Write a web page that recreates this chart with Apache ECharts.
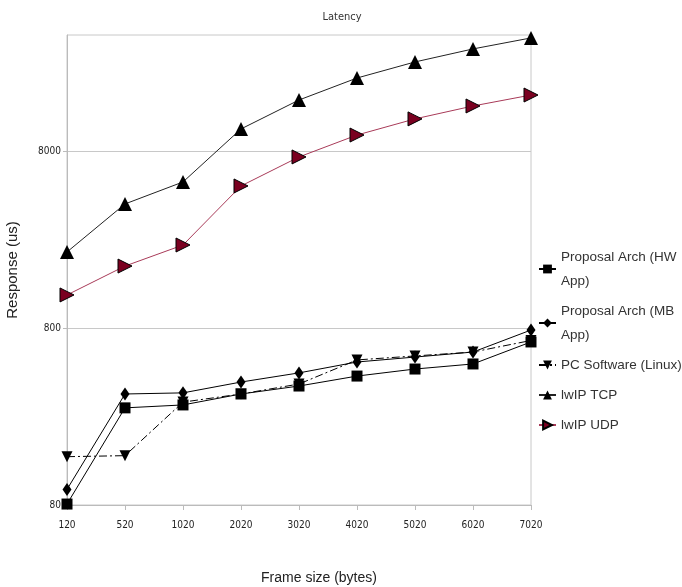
<!DOCTYPE html>
<html>
<head>
<meta charset="utf-8">
<script src="https://cdn.jsdelivr.net/npm/echarts@6/dist/echarts.min.js"></script>
<style>
  html, body { margin: 0; padding: 0; background: #fff; }
  #main { width: 682px; height: 587px; }
</style>
</head>
<body>
<div id="main"></div>
<script>
// 数据
var frameSizes = ['120', '520', '1020', '2020', '3020', '4020', '5020', '6020', '7020'];
var hwApp = [81, 283, 294, 339, 376, 428, 469, 501, 667];
var mbApp = [98, 339, 344, 396, 446, 514, 548, 585, 779];
var pcLinux = [150, 152, 305, 339, 386, 528, 556, 585, 680];
var lwipTcp = [2150, 4015, 5345, 10650, 15520, 20660, 25460, 30160, 34800];
var lwipUdp = [1229, 1790, 2354, 5074, 7400, 9840, 12140, 14360, 16560];
var yBase = 80;   // 80 / 800 / 8000

// log 刻度：按 80 的倍数取对数
function toLog(arr) {
  return arr.map(function (v) { return Math.log10(v / yBase); });
}

var chartDom = document.getElementById('main');
var myChart = echarts.init(chartDom);
var font = 'Liberation Sans';
var narrow = 'DejaVu Sans Condensed, DejaVu Sans, sans-serif';

var option;
option = {
  animation: false,
  title: {
    text: 'Latency',
    left: 337,
    textAlign: 'center',
    top: 7,
    textStyle: { fontSize: 11, fontWeight: 'normal', color: '#333', fontFamily: narrow }
  },
  legend: {
    orient: 'vertical',
    left: 533,
    top: 240,
    itemWidth: 17,
    itemHeight: 11,
    itemGap: 6,
    textStyle: {
      fontSize: 13.5, color: '#333', fontFamily: font,
      width: 123, overflow: 'break', lineHeight: 24
    },
    data: ['Proposal Arch (HW App)', 'Proposal Arch (MB App)', 'PC Software (Linux)', 'lwIP TCP', 'lwIP UDP']
  },
  grid: {
    left: 67, right: 151, top: 35, bottom: 82,
    outerBoundsMode: 'none',
    show: true, borderColor: '#c8c8c8', borderWidth: 1
  },
  xAxis: {
    type: 'category',
    boundaryGap: false,
    data: frameSizes,
    name: 'Frame size (bytes)',
    nameLocation: 'middle',
    nameGap: 66,
    nameTextStyle: { fontSize: 14, color: '#222', fontFamily: font, padding: [0, 0, 0, 40] },
    axisLine: { lineStyle: { color: '#bbb' } },
    axisTick: { alignWithLabel: true, length: 5, lineStyle: { color: '#bbb' } },
    axisLabel: { fontSize: 10, color: '#222', fontFamily: narrow, margin: 15 },
    splitLine: { show: false }
  },
  yAxis: {
    type: 'value',
    min: 0,
    max: 2.655,
    interval: 1,
    name: 'Response (us)',
    nameLocation: 'middle',
    nameGap: 47,
    nameTextStyle: { fontSize: 15, color: '#222', fontFamily: font },
    axisLine: { show: true, lineStyle: { color: '#bbb' } },
    axisTick: { show: true, length: 4, customValues: [0, 1, 2], lineStyle: { color: '#bbb' } },
    axisLabel: {
      fontSize: 10, color: '#222', fontFamily: narrow, margin: 6,
      customValues: [0, 1, 2],
      formatter: function (v) {
        return String(Math.round(yBase * Math.pow(10, v)));
      }
    },
    splitLine: { show: true, lineStyle: { color: '#c8c8c8' } }
  },
  series: [
    {
      name: 'Proposal Arch (HW App)',
      type: 'line',
      data: toLog(hwApp),
      symbol: 'rect',
      symbolSize: 11,
      itemStyle: { color: '#000' },
      lineStyle: { color: '#000', width: 1 }
    },
    {
      name: 'Proposal Arch (MB App)',
      type: 'line',
      data: toLog(mbApp),
      symbol: 'diamond',
      symbolSize: [9, 13],
      itemStyle: { color: '#000' },
      lineStyle: { color: '#000', width: 1 }
    },
    {
      name: 'PC Software (Linux)',
      type: 'line',
      data: toLog(pcLinux),
      symbol: 'triangle',
      symbolRotate: 180,
      symbolSize: 11,
      itemStyle: { color: '#000' },
      lineStyle: { color: '#000', width: 1, type: [8, 3, 2, 3] }
    },
    {
      name: 'lwIP TCP',
      type: 'line',
      data: toLog(lwipTcp),
      symbol: 'triangle',
      symbolSize: 14,
      itemStyle: { color: '#000' },
      lineStyle: { color: '#222', width: 1 }
    },
    {
      name: 'lwIP UDP',
      type: 'line',
      data: toLog(lwipUdp),
      symbol: 'triangle',
      symbolRotate: -90,
      symbolSize: 14,
      itemStyle: { color: '#7a0020', borderColor: '#000', borderWidth: 1 },
      lineStyle: { color: '#a83a58', width: 1 }
    }
  ]
};

option && myChart.setOption(option);
</script>
</body>
</html>
